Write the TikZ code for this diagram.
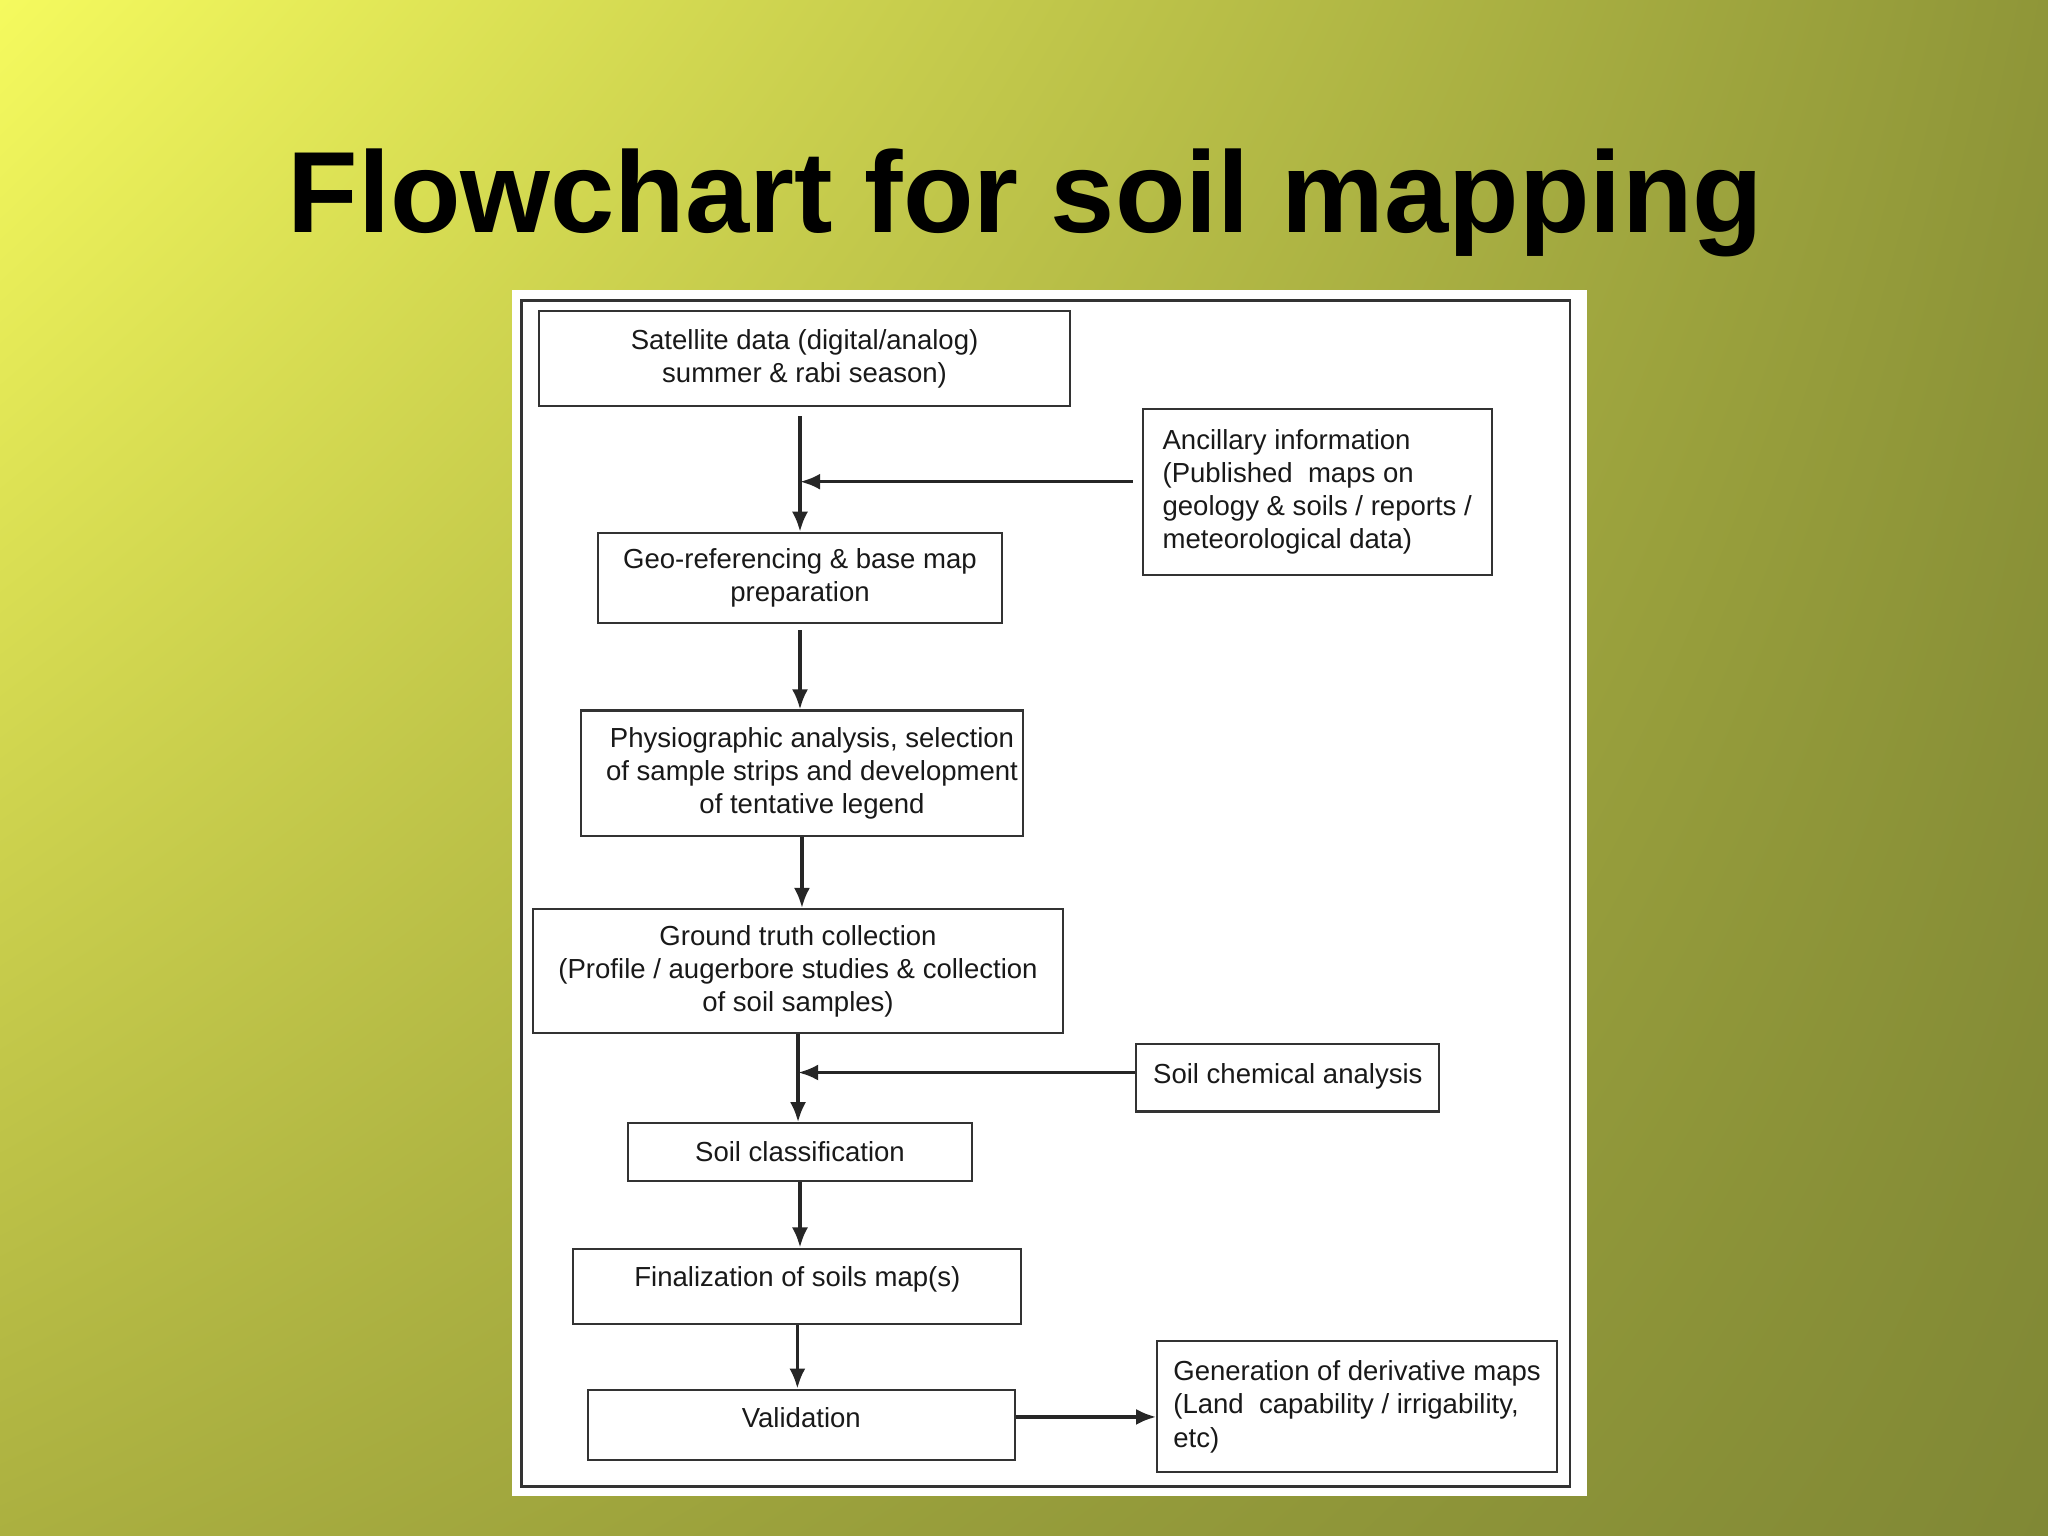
\documentclass[tikz,border=0pt]{standalone}
\usepackage{xcolor}
\usepackage{fontspec}
\setmainfont{Liberation Sans}
\usepackage{tikz}
\usetikzlibrary{positioning, arrows.meta, calc, shadings}
\definecolor{bgyellow}{HTML}{F5FA5E}
\definecolor{bgolive}{HTML}{8F9638}
\definecolor{bglime}{HTML}{ABB040}
\definecolor{bgdark}{HTML}{808835}
\definecolor{framegray}{HTML}{333333}

\begin{document}
\begin{tikzpicture}[x=0.013cm, y=-0.013cm,
    box/.style={draw=framegray, line width=0.6pt, fill=white, inner sep=0pt, align=center,
      font=\fontsize{7.8}{9.4}\selectfont, text=black!90},
    sidebox/.style={box, align=left},
    flow/.style={draw=black!85, line width=1pt, -{Latex[length=2mm, width=1.6mm]}}]
    \useasboundingbox (0,0) rectangle (1568,1176);
    \shade[upper left=bgyellow, upper right=bgolive, lower left=bglime, lower right=bgdark]
      (0,0) rectangle (1568,1176);

    % title
    \node[anchor=base, font=\fontsize{32.7}{36}\selectfont\bfseries]
      (title) at (785,178) {Flowchart for soil mapping};

    % white sheet
    \fill[white] (392,222) rectangle (1215,1145);
    \draw[framegray, line width=0.8pt] (399,230) rectangle (1202,1138);

    \node[box, minimum width=5.278cm, minimum height=0.949cm] (sat) at (616,274.5)
      {Satellite data (digital/analog)\\ summer \& rabi season)};
    \node[sidebox, minimum width=3.471cm, minimum height=1.651cm] (anc) at (1008.5,376.5)
      {Ancillary information\\ (Published~ maps on\\ geology \& soils / reports /\\ meteorological data)};
    \node[box, minimum width=4.017cm, minimum height=0.897cm] (geo) at (612.5,442.5)
      {Geo-referencing \& base map\\ preparation};
    \node[box, minimum width=4.394cm, minimum height=1.248cm] (phys) at (614,592)
      {\hspace*{0.2cm}Physiographic analysis, selection\\ \hspace*{0.2cm}of sample strips and development\\ \hspace*{0.2cm}of tentative legend};
    \node[box, minimum width=5.278cm, minimum height=1.235cm] (ground) at (611,743.5)
      {Ground truth collection\\ (Profile / augerbore studies \& collection\\ of soil samples)};
    \node[sidebox, minimum width=3.016cm, minimum height=0.676cm] (chem) at (986,825)
      {Soil chemical analysis\\[-7pt]~};
    \node[box, minimum width=3.419cm, minimum height=0.572cm] (cls) at (612.5,882)
      {Soil classification};
    \node[box, minimum width=4.459cm, minimum height=0.754cm] (fin) at (610.5,985)
      {Finalization of soils map(s)\\[-3.5pt]~};
    \node[box, minimum width=4.251cm, minimum height=0.702cm] (val) at (613.5,1091)
      {Validation\\[-5pt]~};
    \node[sidebox, minimum width=3.978cm, minimum height=1.3cm] (gen) at (1039,1077)
      {Generation of derivative maps\\ (Land~ capability / irrigability,\\ etc)};

    % arrows
    \draw[flow] ([yshift=-0.09cm]geo.north |- sat.south) -- (geo.north);
    \coordinate (ancout) at ([xshift=-0.09cm, yshift=0.1cm]anc.west);
    \draw[flow] (ancout) -- (ancout -| geo.north);
    \draw[flow] ([yshift=-0.06cm]geo.south) -- (geo.south |- phys.north);
    \draw[flow] (phys.south) -- (phys.south |- ground.north);
    \draw[flow] (ground.south) -- (ground.south |- cls.north);
    \coordinate (chemout) at ([yshift=0.05cm]chem.west);
    \draw[flow] (chemout) -- (chemout -| ground.south);
    \draw[flow] (cls.south) -- (cls.south |- fin.north);
    \draw[flow] (fin.south) -- (fin.south |- val.north);
    \coordinate (valout) at ([yshift=0.08cm]val.east);
    \draw[flow] (valout) -- (valout -| gen.west);
\end{tikzpicture}
\end{document}
